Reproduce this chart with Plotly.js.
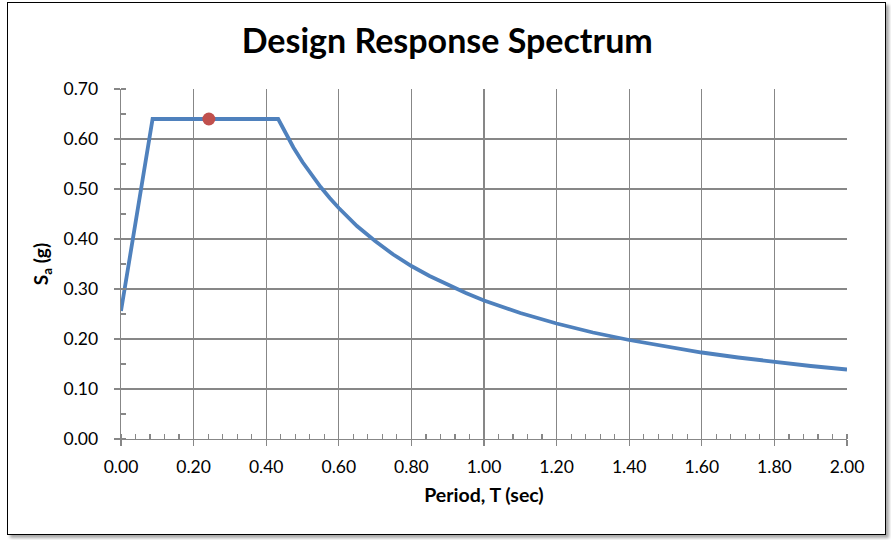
<!DOCTYPE html>
<html>
<head>
<meta charset="utf-8">
<script src="https://cdn.plot.ly/plotly-3.0.1.min.js"></script>
<style>
  html, body { margin: 0; padding: 0; background: #ffffff; }
  #frame {
    position: absolute; left: 7px; top: 2px; width: 877px; height: 531px;
    border: 1.5px solid #000; box-shadow: 3px 3px 3px rgba(0,0,0,0.35);
    background: #fff;
  }
  #chart { position: absolute; left: 0; top: 0; width: 891px; height: 540px; }
</style>
</head>
<body>
<div id="frame"></div>
<div id="chart"></div>
<script>
// Design response spectrum values
const periodT = [0.000, 0.087, 0.433, 0.450, 0.475, 0.500, 0.525, 0.550, 0.575, 0.600,
                 0.650, 0.700, 0.750, 0.800, 0.850, 0.900, 0.950, 1.000, 1.100, 1.200,
                 1.300, 1.400, 1.500, 1.600, 1.700, 1.800, 1.900, 2.000];
const spectralSa = [0.256, 0.640, 0.640, 0.616, 0.583, 0.554, 0.528, 0.504, 0.482, 0.462,
                    0.426, 0.396, 0.369, 0.346, 0.326, 0.308, 0.292, 0.277, 0.252, 0.231,
                    0.213, 0.198, 0.185, 0.173, 0.163, 0.154, 0.146, 0.139];
const markerT = [0.242];
const markerSa = [0.640];
const xTickVals = [0, 0.2, 0.4, 0.6, 0.8, 1.0, 1.2, 1.4, 1.6, 1.8, 2.0];
const yTickVals = [0, 0.1, 0.2, 0.3, 0.4, 0.5, 0.6, 0.7];

const fontFam = 'Lato, "Open Sans", "Liberation Sans", sans-serif';
const gridCol = '#878787';

const traces = [
  {
    x: periodT, y: spectralSa, type: 'scatter', mode: 'lines',
    line: { color: '#4F81BD', width: 3.8 }, hoverinfo: 'x+y', showlegend: false
  },
  {
    x: markerT, y: markerSa, type: 'scatter', mode: 'markers',
    marker: { color: '#C0504D', size: 13, line: { color: '#C0504D', width: 0 } },
    showlegend: false
  }
];

const layout = {
  width: 891, height: 540,
  paper_bgcolor: 'rgba(0,0,0,0)', plot_bgcolor: '#ffffff',
  margin: { l: 121, r: 44, t: 89, b: 101 },
  font: { family: fontFam, color: '#000', size: 17 },
  title: {
    text: '<b>Design Response Spectrum</b>',
    font: { family: fontFam, size: 34, color: '#000' },
    x: 0.502, xanchor: 'center', y: 0.923, yanchor: 'middle'
  },
  xaxis: {
    range: [0, 2], tickvals: xTickVals, ticktext: xTickVals.map(v => v.toFixed(2)),
    showgrid: true, gridcolor: gridCol, gridwidth: 1.3,
    showline: true, linecolor: gridCol, linewidth: 1.3,
    ticks: 'outside', ticklen: 6, tickcolor: gridCol, tickwidth: 1.3,
    ticklabelstandoff: 6,
    tickfont: { family: fontFam, size: 17.5 },
    zeroline: false, mirror: false,
    minor: { dtick: 0.04, ticks: 'inside', ticklen: 5, tickcolor: gridCol, tickwidth: 1.2, showgrid: false },
    title: { text: '<b>Period, T (sec)</b>', font: { family: fontFam, size: 19.5 }, standoff: 12 }
  },
  yaxis: {
    range: [0, 0.7], tickvals: yTickVals, ticktext: yTickVals.map(v => v.toFixed(2)),
    showgrid: true, gridcolor: gridCol, gridwidth: 1.3,
    showline: true, linecolor: gridCol, linewidth: 1.3,
    ticks: 'outside', ticklen: 6, tickcolor: gridCol, tickwidth: 1.3,
    ticklabelstandoff: 12,
    tickfont: { family: fontFam, size: 17.5 },
    zeroline: false,
    minor: { dtick: 0.05, ticks: 'inside', ticklen: 5, tickcolor: gridCol, tickwidth: 1.2, showgrid: false },
    title: { text: '<b>S<sub>a</sub> (g)</b>', font: { family: fontFam, size: 19 }, standoff: 10 }
  }
};

Plotly.newPlot('chart', traces, layout, { displayModeBar: false, staticPlot: true });
</script>
</body>
</html>
